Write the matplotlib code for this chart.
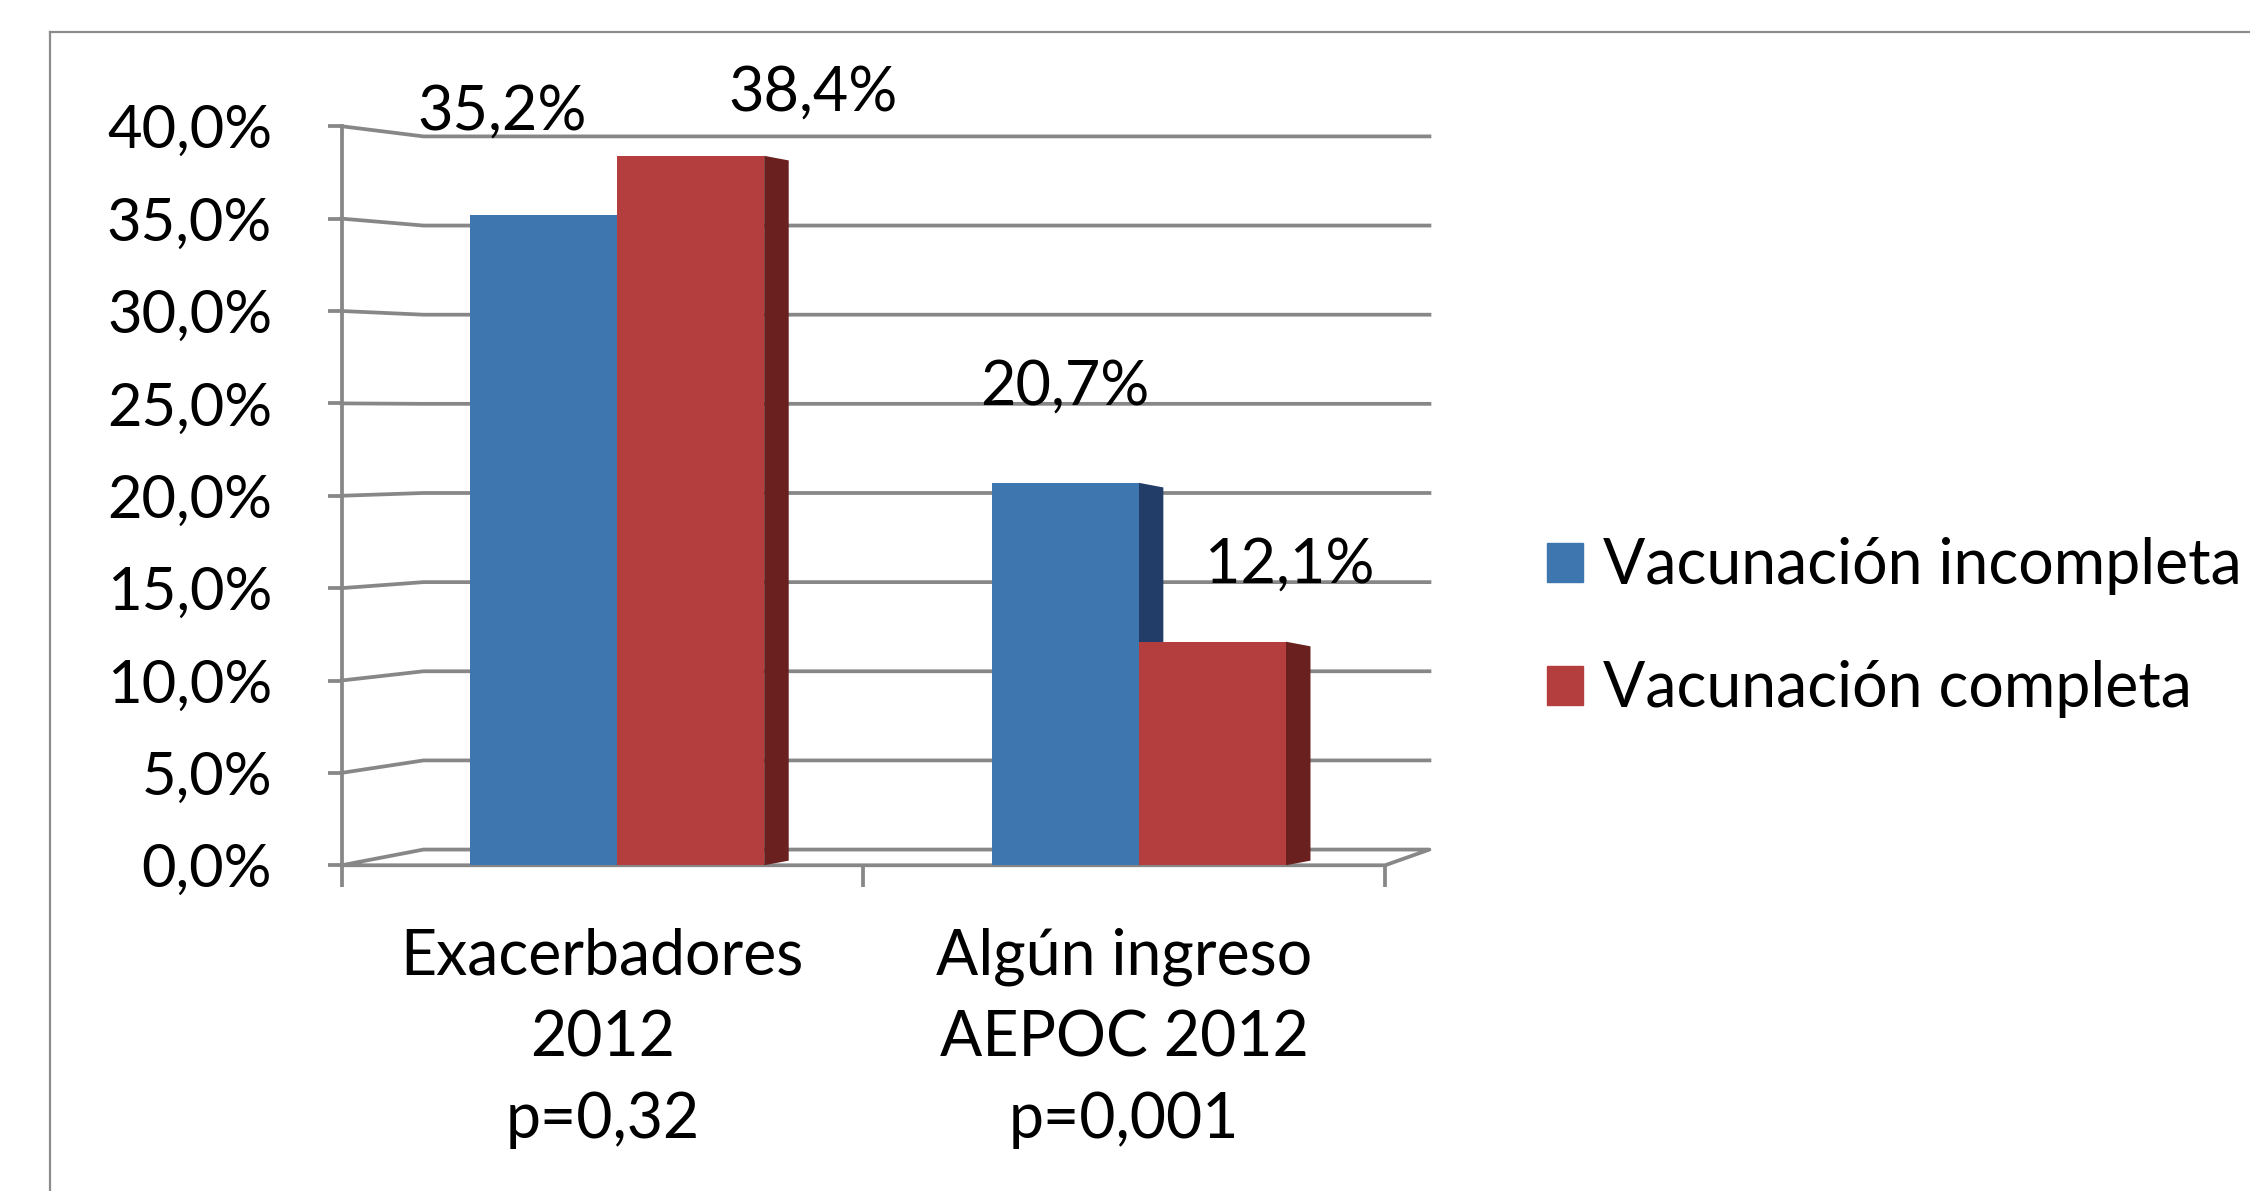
import matplotlib
matplotlib.use("Agg")
import matplotlib.pyplot as plt
from matplotlib.lines import Line2D
from matplotlib.patches import Patch
from matplotlib.ticker import FuncFormatter

plt.rcParams['font.family'] = ['Lato', 'DejaVu Sans']

# data
categories = ["Exacerbadores\n2012\np=0,32", "Algún ingreso\nAEPOC 2012\np=0,001"]
series_names = ["Vacunación incompleta", "Vacunación completa"]
incompleta = [35.2, 20.7]
completa = [38.4, 12.1]
yticks = [0, 5, 10, 15, 20, 25, 30, 35, 40]

# look
blue, blue_dark = "#3E77B0", "#223E68"
red, red_dark = "#B43E3E", "#6B2020"
grid_col = "#878787"
glw = 2.7

fig = plt.figure(figsize=(22.5, 11.91), dpi=100)
ax = fig.add_axes([0.1518, 0.2735, 0.4638, 0.6205])
ax.set_xlim(-0.5, 1.5)
ax.set_ylim(0, 40)


# pseudo 3d: back wall is a slightly shrunk, shifted copy of the front plane
def back_x(x):
    return -0.343 + (x + 0.5) * 0.964


def back_y(v):
    return 0.85 + 0.965 * v


for v in yticks[1:]:
    ax.plot([-0.5, back_x(-0.5), back_x(1.5)], [v, back_y(v), back_y(v)],
            color=grid_col, lw=glw, zorder=1, clip_on=False)
# floor
ax.plot([-0.5, 1.5, back_x(1.5), back_x(-0.5), -0.5],
        [0, 0, back_y(0), back_y(0), 0],
        color=grid_col, lw=glw, zorder=1, clip_on=False)

w = 0.282
shift = 0.028
depth = 0.047
xs = range(len(categories))
bars = []
for k, (vals, c, cd) in enumerate([(incompleta, blue, blue_dark), (completa, red, red_dark)]):
    pos = [x + shift + (k - 0.5) * w for x in xs]
    for p, v in zip(pos, vals):
        xr = p + w / 2
        ax.fill([xr, xr + depth, xr + depth, xr], [0, 0.25, v - 0.25, v],
                color=cd, zorder=2 + k, lw=0, clip_on=False)
    b = ax.bar(pos, vals, width=w, color=c, zorder=2 + k, lw=0)
    bars.append(b)

# data labels (Excel put them at the 3d top of each bar)
label_offsets = [[(-30, 74), (0, 69)], [(88, 45), (56, 55)]]
for k, vals in enumerate([incompleta, completa]):
    for rect, v, off in zip(bars[k], vals, label_offsets[k]):
        ax.annotate(f"{v:.1f}%".replace('.', ','),
                    xy=(rect.get_x() + rect.get_width() / 2, v),
                    xytext=off, textcoords='offset points',
                    ha='center', va='center', fontsize=44, zorder=6,
                    annotation_clip=False)

for s in ['top', 'right', 'bottom']:
    ax.spines[s].set_visible(False)
ax.spines['left'].set_color(grid_col)
ax.spines['left'].set_linewidth(glw)

ax.set_yticks(yticks)
ax.yaxis.set_major_formatter(FuncFormatter(lambda v, _: f"{v:.1f}%".replace('.', ',')))
ax.tick_params(axis='y', length=10, width=glw, color=grid_col, pad=40, labelsize=43)

ax.set_xticks(list(xs))
ax.set_xticklabels(categories, fontsize=45, linespacing=1.5)
ax.set_xticks([-0.5, 0.5, 1.5], minor=True)
ax.tick_params(axis='x', which='major', length=0, pad=45)
ax.tick_params(axis='x', which='minor', length=16, width=glw, color=grid_col)

handles = [Patch(color=blue), Patch(color=red)]
fig.legend(handles, series_names, loc='center left', bbox_to_anchor=(0.6876, 0.473),
           bbox_transform=fig.transFigure, frameon=False, fontsize=45,
           handlelength=0.58, handleheight=0.58, handletextpad=0.32,
           labelspacing=1.04, borderpad=0, borderaxespad=0)

# outer chart frame (cropped at right/bottom)
fig.add_artist(Line2D([50 / 2250, 50 / 2250], [0, 1 - 32 / 1191], color="#8C8C8C", lw=1.6))
fig.add_artist(Line2D([50 / 2250, 1], [1 - 32 / 1191, 1 - 32 / 1191], color="#8C8C8C", lw=1.6))

fig.savefig("out.png", dpi=100)
